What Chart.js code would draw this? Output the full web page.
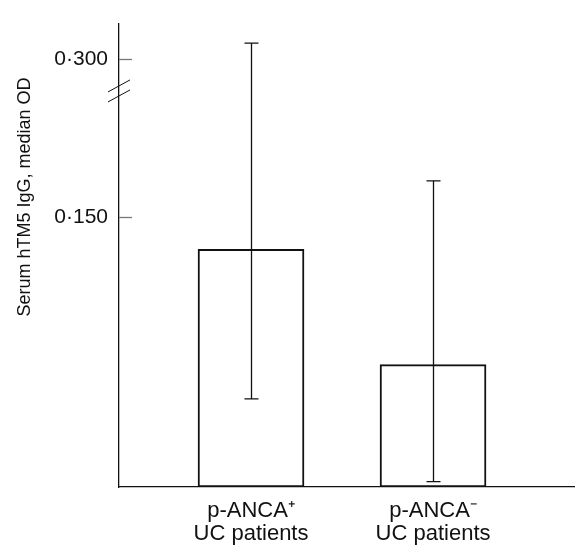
<!DOCTYPE html>
<html>
<head>
<meta charset="utf-8">
<script src="https://cdn.jsdelivr.net/npm/chart.js@4.4.0/dist/chart.umd.min.js"></script>
<style>
  html, body { margin: 0; padding: 0; background: #fff; }
  .wrap { width: 575px; height: 549px; }
</style>
</head>
<body>
<div class="wrap"><canvas class="grafico"></canvas></div>
<script>
const groups = [["p-ANCA\u207A", "UC patients"], ["p-ANCA\u207B", "UC patients"]];
const groupPos = [1, 2];
const medians = [0.132, 0.068];
const errLow = [0.049, 0.003];
const errHigh = [0.309, 0.170];
const tickValues = [0.150, 0.300];
const tickLabels = ["0·150", "0·300"];
const yTitle = "Serum hTM5 IgG, median OD";

// broken y axis: everything above breakHigh is pulled down to sit right after breakLow
const breakLow = 0.22;
const breakHigh = 0.2825;
const yMax = 0.2574;
const toAxis = (v) => v >= breakHigh ? v - (breakHigh - breakLow) : Math.min(v, breakLow);

const canvas = document.querySelector(".grafico");
const font = "'Liberation Sans', Arial, Helvetica, sans-serif";
const ink = "#111";

const errorBars = {
  id: "errorBars",
  afterDatasetsDraw(chart) {
    const {ctx, scales: {x, y}} = chart;
    ctx.save();
    ctx.strokeStyle = ink;
    ctx.lineWidth = 1.3;
    groupPos.forEach((g, i) => {
      const px = Math.round(x.getPixelForValue(g)) + 0.5;
      const top = y.getPixelForValue(toAxis(errHigh[i]));
      const bot = y.getPixelForValue(toAxis(errLow[i]));
      ctx.beginPath();
      ctx.moveTo(px, top); ctx.lineTo(px, bot);
      ctx.moveTo(px - 7, top); ctx.lineTo(px + 7, top);
      ctx.moveTo(px - 7, bot); ctx.lineTo(px + 7, bot);
      ctx.stroke();
    });
    ctx.restore();
  }
};

const axisExtras = {
  id: "axisExtras",
  afterDraw(chart) {
    const {ctx, chartArea, scales: {y}} = chart;
    const left = chartArea.left;
    ctx.save();
    // tick marks point into the plot
    ctx.strokeStyle = "#777";
    ctx.lineWidth = 1.3;
    tickValues.forEach((v) => {
      const py = Math.round(y.getPixelForValue(toAxis(v))) + 0.5;
      ctx.beginPath();
      ctx.moveTo(left, py); ctx.lineTo(left + 13, py);
      ctx.stroke();
    });
    // break marks
    const by = y.getPixelForValue(breakLow);
    ctx.strokeStyle = ink;
    ctx.lineWidth = 1;
    [-5, 5].forEach((d) => {
      ctx.beginPath();
      ctx.moveTo(left - 11, by + d + 6);
      ctx.lineTo(left + 11, by + d - 6);
      ctx.stroke();
    });
    // axis title
    ctx.fillStyle = ink;
    ctx.font = "18px " + font;
    ctx.textAlign = "center";
    ctx.textBaseline = "middle";
    ctx.translate(25, 197);
    ctx.rotate(-Math.PI / 2);
    ctx.fillText(yTitle, 0, 0);
    ctx.restore();
  }
};

const config = {
  type: "bar",
  data: {
    datasets: [{
      data: groupPos.map((g, i) => ({x: g, y: toAxis(medians[i])})),
      backgroundColor: "#fff",
      borderColor: ink,
      borderWidth: 2,
      borderSkipped: false,
      barThickness: 106
    }]
  },
  options: {
    responsive: true,
    maintainAspectRatio: false,
    animation: false,
    layout: { padding: { top: 10, left: 0, right: 0, bottom: 0 } },
    plugins: { legend: { display: false }, tooltip: { enabled: false } },
    scales: {
      x: {
        type: "linear",
        offset: false,
        min: 0.2747,
        max: 2.78,
        grid: { display: false, drawTicks: false },
        border: { display: true, color: ink, width: 1.3 },
        afterBuildTicks: (s) => { s.ticks = groupPos.map((v) => ({value: v})); },
        afterFit: (s) => { s.height = 62; },
        ticks: {
          color: ink,
          font: { family: font, size: 22, lineHeight: 1.02 },
          padding: 13,
          maxRotation: 0,
          autoSkip: false,
          callback: (v, i) => groups[i]
        }
      },
      y: {
        min: 0,
        max: yMax,
        grid: { display: false, drawTicks: false },
        border: { display: true, color: ink, width: 1.3 },
        afterBuildTicks: (s) => { s.ticks = tickValues.map((v) => ({value: toAxis(v)})); },
        afterFit: (s) => { s.width = 119; },
        ticks: {
          color: ink,
          font: { family: font, size: 21 },
          padding: 11,
          callback: (v, i) => tickLabels[i]
        }
      }
    }
  },
  plugins: [errorBars, axisExtras]
};

new Chart(canvas, config);
</script>
</body>
</html>
